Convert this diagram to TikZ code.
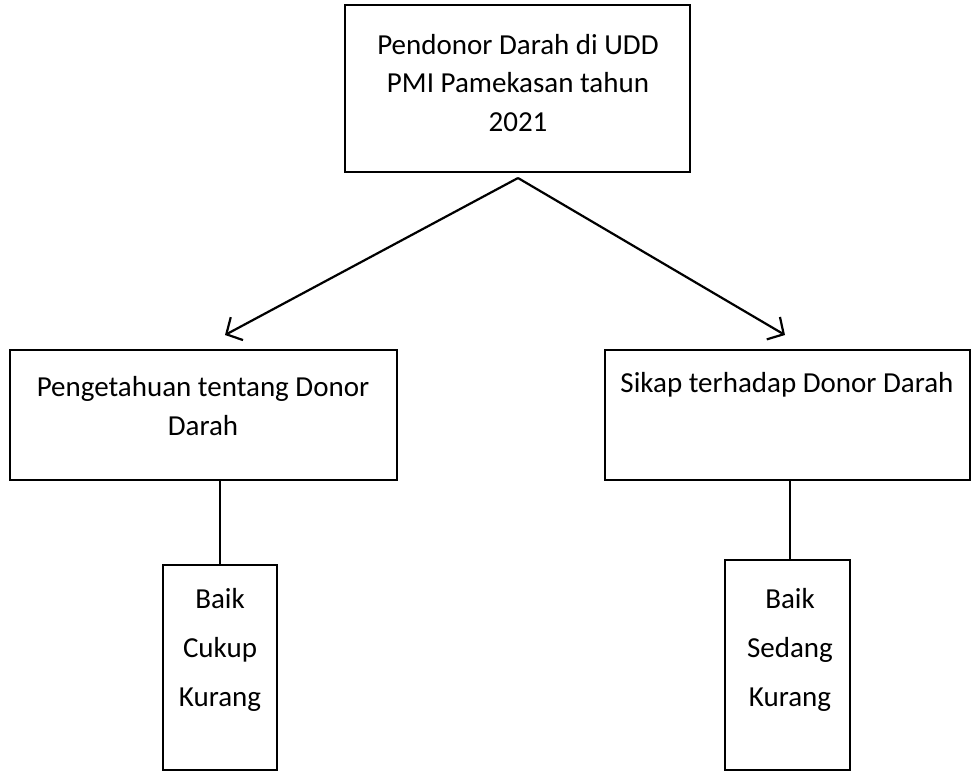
\documentclass[tikz,border=0pt]{standalone}
\usepackage{fontspec}
\setmainfont{Carlito}
\usetikzlibrary{arrows.meta}
\begin{document}
\begin{tikzpicture}[x=1pt,y=-1pt,
  box/.style={draw=black,line width=2.8pt,inner sep=0pt},
  txt/.style={font=\fontsize{29}{38.5}\selectfont,align=center,inner sep=0pt},
  conn/.style={line width=2.2pt},
  arr/.style={conn,-{Straight Barb[length=12pt,width=26pt,line width=2.2pt]}}]
\useasboundingbox (0,0) rectangle (977,772);
% boxes
\node[box,minimum width=345pt,minimum height=167pt] (top) at (517.5,88.5) {};
\node[box,minimum width=387pt,minimum height=130pt] (left) at (203.5,415) {};
\node[box,minimum width=365pt,minimum height=130pt] (right) at (787.5,415) {};
\node[box,minimum width=114pt,minimum height=205pt] (lsmall) at (220,667.5) {};
\node[box,minimum width=125pt,minimum height=210pt] (rsmall) at (787.5,665) {};
% texts
\node[txt] (toptxt) at (518,83) {Pendonor Darah di UDD\\PMI Pamekasan tahun\\2021};
\node[txt] (lefttxt) at (203,406) {Pengetahuan tentang Donor\\Darah};
\node[txt] (righttxt) at (787,385) {Sikap terhadap Donor Darah};
\node[txt,font=\fontsize{29}{49}\selectfont] (lsmalltxt) at (220,650) {Baik\\Cukup\\Kurang};
\node[txt,font=\fontsize{29}{49}\selectfont] (rsmalltxt) at (790,650) {Baik\\Sedang\\Kurang};
% connectors
\coordinate (apex) at (518,178);
\coordinate (ltip) at (225,335);
\coordinate (rtip) at (785,335);
\coordinate (rtop) at (790,480);
\coordinate (rbot) at (790,560);
\draw[arr] (apex) -- (ltip);
\draw[arr] (apex) -- (rtip);
\draw[conn] (left.south -| lsmall.north) -- (lsmall.north);
\draw[conn] (rtop) -- (rbot);
\end{tikzpicture}
\end{document}
